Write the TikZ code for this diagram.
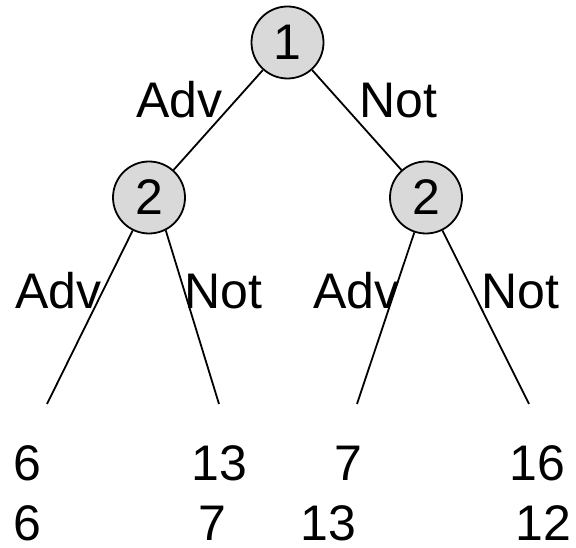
\documentclass[tikz,border=0pt]{standalone}
\usepackage{fontspec}
\setmainfont{Liberation Sans}
\begin{document}
\begin{tikzpicture}[x=1pt,y=1pt,
  big/.style={font=\fontsize{50}{60}\selectfont},
  choice/.style={circle, draw=black, line width=1.8pt, fill=gray!30, minimum size=72pt, inner sep=0pt, big},
  lbl/.style={anchor=base west, inner sep=0pt, big},
  edge/.style={line width=1.8pt, black}]
\useasboundingbox (0,0) rectangle (576,548);
\node[choice] (n1) at (287.5,505.5) {1};
\node[choice] (n2a) at (149,350.5) {2};
\node[choice] (n2b) at (426,350.5) {2};
\coordinate (l1) at (47,144);
\coordinate (l2) at (219,144);
\coordinate (l3) at (357,144);
\coordinate (l4) at (529,144);
\draw[edge] (n1) -- (n2a);
\draw[edge] (n1) -- (n2b);
\draw[edge] (n2a) -- (l1);
\draw[edge] (n2a.-63) -- (l2);
\draw[edge] (n2b) -- (l3);
\draw[edge] (n2b) -- (l4);
\node[lbl] (t1) at (136,430) {Adv};
\node[lbl] (t2) at (359,430) {Not};
\node[lbl] (t3) at (15,239) {Adv};
\node[lbl] (t4) at (184,239) {Not};
\node[lbl] (t5) at (313,239) {Adv};
\node[lbl] (t6) at (481,239) {Not};
\node[lbl] (p1) at (13,67) {6};
\node[lbl] (p2) at (191.5,67) {13};
\node[lbl] (p3) at (334,67) {7};
\node[lbl] (p4) at (509.5,67) {16};
\node[lbl] (q1) at (13,7) {6};
\node[lbl] (q2) at (198,7) {7};
\node[lbl] (q3) at (300.5,7) {13};
\node[lbl] (q4) at (515.5,7) {12};
\end{tikzpicture}
\end{document}
